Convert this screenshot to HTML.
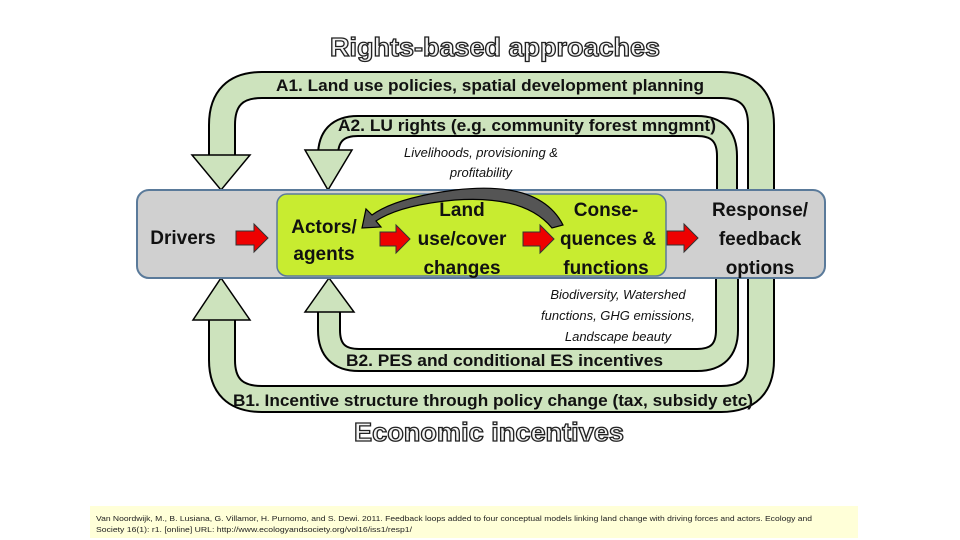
<!DOCTYPE html>
<html><head><meta charset="utf-8"><style>
html,body{margin:0;padding:0;background:#fff;}
svg{display:block;font-family:"Liberation Sans",sans-serif;}
</style></head><body>
<svg width="960" height="540" viewBox="0 0 960 540" xmlns="http://www.w3.org/2000/svg">
<!-- A1 -->
<path d="M761,197 V125 Q761,85 721,85 H262 Q222,85 222,125 V156" fill="none" stroke="#000" stroke-width="28"/>
<path d="M761,197 V125 Q761,85 721,85 H262 Q222,85 222,125 V157" fill="none" stroke="#cde3bd" stroke-width="24"/>
<polygon points="192,155 250,155 221,190" fill="#cde3bd" stroke="#000" stroke-width="1.5"/>
<!-- A2 -->
<path d="M727,197 V156 Q727,126 697,126 H358 Q328,126 328,156 V151" fill="none" stroke="#000" stroke-width="22"/>
<path d="M727,197 V156 Q727,126 697,126 H358 Q328,126 328,156 V152" fill="none" stroke="#cde3bd" stroke-width="18"/>
<polygon points="305,150 352,150 328,190" fill="#cde3bd" stroke="#000" stroke-width="1.5"/>
<!-- B1 -->
<path d="M761,272 V360 Q761,399 721,399 H262 Q222,399 222,360 V319" fill="none" stroke="#000" stroke-width="28"/>
<path d="M761,272 V360 Q761,399 721,399 H262 Q222,399 222,360 V318" fill="none" stroke="#cde3bd" stroke-width="24"/>
<polygon points="193,320 250,320 221,278" fill="#cde3bd" stroke="#000" stroke-width="1.5"/>
<!-- B2 -->
<path d="M727,272 V330 Q727,360 697,360 H359 Q329,360 329,330 V311" fill="none" stroke="#000" stroke-width="24"/>
<path d="M727,272 V330 Q727,360 697,360 H359 Q329,360 329,330 V310" fill="none" stroke="#cde3bd" stroke-width="20"/>
<polygon points="305,312 354,312 329,278" fill="#cde3bd" stroke="#000" stroke-width="1.5"/>
<!-- gray box -->
<rect x="137" y="190" width="688" height="88" rx="12" fill="#d0d0d0" stroke="#5a7a9a" stroke-width="2"/>
<!-- green box -->
<rect x="277" y="194" width="389" height="82" rx="10" fill="#c8ec30" stroke="#5a7a9a" stroke-width="1.5"/>
<!-- curved arrow -->
<path d="M563,225 Q540,180 455,190 Q395,198 372,215 L366,209 L362,228 L381,227 L376,221 Q400,205 455,200 Q525,195 552,228 Z" fill="#555" stroke="#000" stroke-width="1.2"/>
<!-- red arrows -->
<g fill="#e00" stroke="#333" stroke-width="1">
<polygon points="236,231 254,231 254,224 268,238 254,252 254,245 236,245"/>
<polygon points="380,232 396,232 396,225 410,239 396,253 396,246 380,246"/>
<polygon points="523,232 540,232 540,225 554,239 540,253 540,246 523,246"/>
<polygon points="667,231 684,231 684,224 698,238 684,252 684,245 667,245"/>
</g>
<!-- labels -->
<text x="330" y="56" font-size="26" textLength="330" lengthAdjust="spacingAndGlyphs" fill="#f4f4f4" stroke="#222" stroke-width="1.3" font-weight="bold">Rights-based approaches</text>
<text x="276" y="91" font-size="17" textLength="428" lengthAdjust="spacingAndGlyphs" font-weight="bold" fill="#111">A1. Land use policies, spatial development planning</text>
<text x="338" y="131" font-size="17" textLength="378" lengthAdjust="spacingAndGlyphs" font-weight="bold" fill="#111">A2. LU rights (e.g. community forest mngmnt)</text>
<text x="481" y="157" font-size="13" font-style="italic" text-anchor="middle" fill="#111">Livelihoods, provisioning &amp;</text>
<text x="481" y="177" font-size="13" font-style="italic" text-anchor="middle" fill="#111">profitability</text>
<g font-size="19" font-weight="bold" fill="#111" text-anchor="middle">
<text x="183" y="244">Drivers</text>
<text x="324" y="233">Actors/</text>
<text x="324" y="260">agents</text>
<text x="462" y="216">Land</text>
<text x="462" y="245">use/cover</text>
<text x="462" y="274">changes</text>
<text x="606" y="216">Conse-</text>
<text x="608" y="245">quences &amp;</text>
<text x="606" y="274">functions</text>
<text x="760" y="216">Response/</text>
<text x="760" y="245">feedback</text>
<text x="760" y="274">options</text>
</g>
<g font-size="13" font-style="italic" fill="#111" text-anchor="middle">
<text x="618" y="299">Biodiversity, Watershed</text>
<text x="618" y="320">functions, GHG emissions,</text>
<text x="618" y="341">Landscape beauty</text>
</g>
<text x="346" y="366" font-size="17" textLength="317" lengthAdjust="spacingAndGlyphs" font-weight="bold" fill="#111">B2. PES and conditional ES   incentives</text>
<text x="233" y="406" font-size="17" textLength="520" lengthAdjust="spacingAndGlyphs" font-weight="bold" fill="#111">B1. Incentive structure through policy change (tax, subsidy etc)</text>
<text x="354" y="441" font-size="26" textLength="270" lengthAdjust="spacingAndGlyphs" fill="#f4f4f4" stroke="#222" stroke-width="1.3" font-weight="bold">Economic incentives</text>
<!-- footnote -->
<rect x="90" y="506" width="768" height="32" fill="#ffffd8"/>
<text x="96" y="521" font-size="7.5" textLength="716" lengthAdjust="spacingAndGlyphs" fill="#222">Van Noordwijk, M., B. Lusiana, G. Villamor, H. Purnomo, and S. Dewi. 2011. Feedback loops added to four conceptual models linking land change with driving forces and actors. Ecology and</text>
<text x="96" y="532" font-size="7.5" textLength="316" lengthAdjust="spacingAndGlyphs" fill="#222">Society 16(1): r1. [online] URL: http://www.ecologyandsociety.org/vol16/iss1/resp1/</text>
</svg>
</body></html>
